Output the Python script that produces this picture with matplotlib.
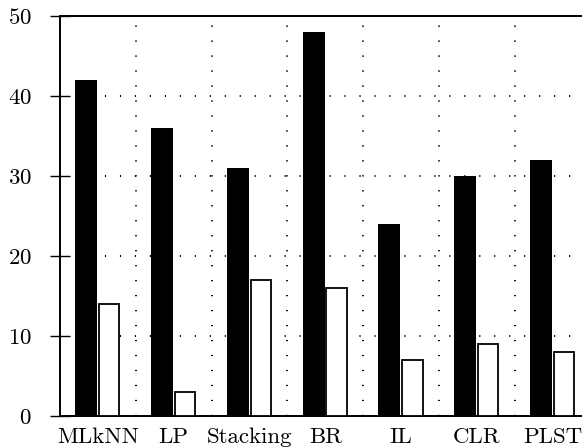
import matplotlib.pyplot as plt
import numpy as np

plt.rcParams['font.family'] = 'cmr10'
plt.rcParams['mathtext.fontset'] = 'cm'
plt.rcParams['axes.formatter.use_mathtext'] = True

methods = ['MLkNN', 'LP', 'Stacking', 'BR', 'IL', 'CLR', 'PLST']
black_vals = [42, 36, 31, 48, 24, 30, 32]
white_vals = [14, 3, 17, 16, 7, 9, 8]

fig = plt.figure(figsize=(5.82, 4.48), dpi=100)
ax = fig.add_axes([60 / 582, 32 / 448, 522 / 582, 400 / 448])

x = np.arange(len(methods))
ax.bar(x - 0.155, black_vals, width=0.29, color='black', zorder=3)
ax.bar(x + 0.15, white_vals, width=0.27, color='white', edgecolor='black',
       linewidth=1.3, zorder=3)

# dotted grid: horizontal at the y ticks, vertical between groups
dots = dict(color='black', linewidth=1.4, linestyle=(0, (0.6, 7.1)), zorder=1)
for yv in [10, 20, 30, 40, 50]:
    ax.axhline(yv, **dots)
for xv in x[:-1] + 0.5:
    ax.axvline(xv, **dots)

ax.set_xlim(-0.5, 6.387)
ax.set_ylim(0, 50)
ax.set_yticks([0, 10, 20, 30, 40, 50])
ax.set_xticks(x)
ax.set_xticklabels(methods)

ax.tick_params(axis='y', direction='inout', length=15, width=1, pad=13, labelsize=16.5)
ax.tick_params(axis='x', length=0, pad=8, labelsize=16.5)

for side in ['left', 'bottom', 'top']:
    ax.spines[side].set_linewidth(1.4)
ax.spines['right'].set_visible(False)

fig.savefig('out.png', dpi=100)
